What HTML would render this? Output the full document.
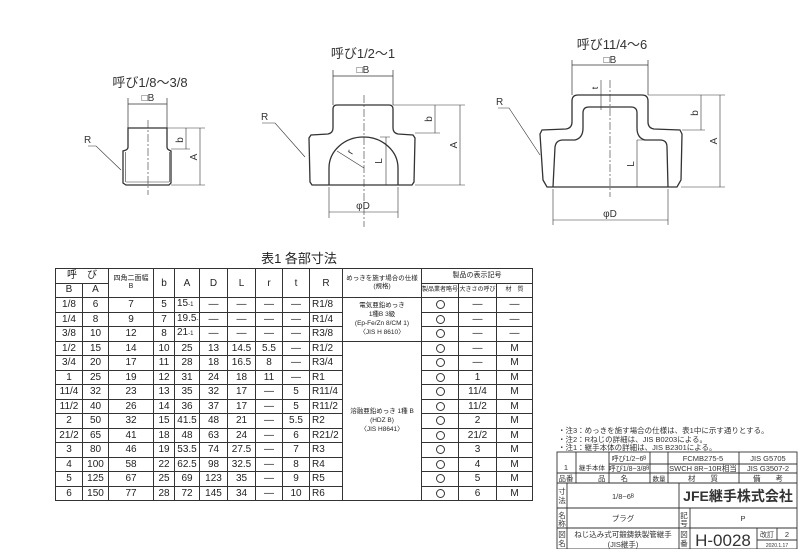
<!DOCTYPE html>
<html><head><meta charset="utf-8"><style>
body{margin:0;width:800px;height:549px;background:#fff;position:relative;overflow:hidden;font-family:"Liberation Sans","Noto Sans CJK JP",sans-serif;color:#222}
svg{position:absolute;left:0;top:0}
table{position:absolute;left:55px;top:268px;border-collapse:collapse;table-layout:fixed;width:478px;font-size:10px}
td{border:1px solid #333;text-align:center;padding:0;height:14.5px;line-height:11px;white-space:nowrap;overflow:hidden;box-sizing:border-box}
td.l{text-align:left;padding-left:2px}
.h{font-size:7px;line-height:8px}
.sm{font-size:6px}
.c{display:inline-block;width:7px;height:7px;border:1.6px solid #333;border-radius:50%;vertical-align:middle}
.sp{font-size:7px;line-height:10px}
</style></head><body>
<svg width="800" height="549" viewBox="0 0 800 549" fill="none" stroke="#333" stroke-width="1" font-family="Liberation Sans, Noto Sans CJK JP, sans-serif">
<g>
<text x="150" y="87" font-size="13" fill="#333" stroke="none" text-anchor="middle">呼び1/8〜3/8</text>
<text x="148" y="101" font-size="10" fill="#333" stroke="none" text-anchor="middle">□B</text>
<path d="M128,104 H167 M128,98 V128 M167,98 V128" stroke-width="0.7"/>
<path d="M128,128 L167,128 L167,147 Q167,149 169,150 L171,151 L171,183 L169,185 L126,185 L123,183 L123,151 L126,150 Q128,149 128,147 Z" stroke-width="1.3"/>
<path d="M125.5,152 V182 M169.5,152 V182 M126,182 H169" stroke-width="0.6"/>
<path d="M148,120 V195" stroke-dasharray="8,2,2,2" stroke-width="0.6"/>
<path d="M167,128 H205 M171,149 H190 M171,185 H205 M186,128 V149 M200,128 V185" stroke-width="0.6"/>
<text x="183" y="140" font-size="10" fill="#333" stroke="none" transform="rotate(-90 183 140)" text-anchor="middle">b</text>
<text x="197" y="157" font-size="10" fill="#333" stroke="none" transform="rotate(-90 197 157)" text-anchor="middle">A</text>
<text x="84" y="143" font-size="10" fill="#333" stroke="none">R</text>
<path d="M88,146 L96,146 L121,170" stroke-width="0.6"/>
</g>
<g>
<text x="363" y="58" font-size="13" fill="#333" stroke="none" text-anchor="middle">呼び1/2〜1</text>
<text x="363" y="73" font-size="10" fill="#333" stroke="none" text-anchor="middle">□B</text>
<path d="M333,76 H393 M333,70 V105 M393,70 V105" stroke-width="0.7"/>
<path d="M337,105 L389,105 Q393,105 393,109 L393,128 Q393,133 398,134 L413,135 L415,138 L414,182 L412,185 L312,185 L310,182 L309,138 L311,135 L328,134 Q333,133 333,128 L333,109 Q333,105 337,105 Z" stroke-width="1.3"/>
<path d="M329,185 L329,168 A34.5,31 0 0 1 398,168 L398,185" stroke-width="1.3"/>
<path d="M364,95 V227" stroke-dasharray="8,2,2,2" stroke-width="0.6"/>
<path d="M393,105 H465 M415,133 H440 M415,185 H465 M435,105 V133 M460,105 V185 M380,137 H390 M386,137 V185 M329,187 V218 M398,187 V218 M329,212 H398 M364,168 L337,151" stroke-width="0.6"/>
<text x="432" y="119" font-size="10" fill="#333" stroke="none" transform="rotate(-90 432 119)" text-anchor="middle">b</text>
<text x="457" y="145" font-size="10" fill="#333" stroke="none" transform="rotate(-90 457 145)" text-anchor="middle">A</text>
<text x="382" y="161" font-size="10" fill="#333" stroke="none" transform="rotate(-90 382 161)" text-anchor="middle">L</text>
<text x="352" y="155" font-size="10" fill="#333" stroke="none" transform="rotate(-60 352 155)">r</text>
<text x="363" y="209" font-size="10" fill="#333" stroke="none" text-anchor="middle">φD</text>
<text x="261" y="120" font-size="10" fill="#333" stroke="none">R</text>
<path d="M262,123 L275,123 L305,157" stroke-width="0.6"/>
</g>
<g>
<text x="612" y="49" font-size="13" fill="#333" stroke="none" text-anchor="middle">呼び11/4〜6</text>
<text x="610" y="63" font-size="10" fill="#333" stroke="none" text-anchor="middle">□B</text>
<path d="M572,65 H648 M572,60 V95 M648,60 V95" stroke-width="0.7"/>
<path d="M578,95 L642,95 Q648,95 648,101 L648,122 Q648,128 654,129 L680,130 L682,134 L681,180 L677,187 L547,187 L543,180 L540,134 L542,130 L566,129 Q572,128 572,122 L572,101 Q572,95 578,95Z" stroke-width="1.3"/>
<path d="M553,187 L555,147 Q556,140 563,140 L575,140 Q583,138 583,128 L583,113 Q583,107 589,107 L631,107 Q637,107 637,113 L637,128 Q637,138 645,140 L660,140 Q667,140 667,147 L668,187" stroke-width="1.3"/>
<path d="M610,80 V197" stroke-dasharray="8,2,2,2" stroke-width="0.6"/>
<path d="M648,95 H725 M682,130 H705 M681,187 H725 M701,95 V130 M720,95 V187 M637,140 H645 M637,140 V187 M553,189 V225 M668,189 V225 M553,220 H668 M601,80 V110" stroke-width="0.6"/>
<text x="598" y="88" font-size="9" fill="#333" stroke="none" transform="rotate(-90 598 88)" text-anchor="middle">t</text>
<text x="698" y="113" font-size="10" fill="#333" stroke="none" transform="rotate(-90 698 113)" text-anchor="middle">b</text>
<text x="717" y="141" font-size="10" fill="#333" stroke="none" transform="rotate(-90 717 141)" text-anchor="middle">A</text>
<text x="634" y="164" font-size="10" fill="#333" stroke="none" transform="rotate(-90 634 164)" text-anchor="middle">L</text>
<text x="610" y="217" font-size="10" fill="#333" stroke="none" text-anchor="middle">φD</text>
<text x="496" y="105" font-size="10" fill="#333" stroke="none">R</text>
<path d="M498,108 L509,108 L540,155" stroke-width="0.6"/>
</g>
<text x="299" y="263" font-size="13" fill="#222" stroke="none" text-anchor="middle">表1 各部寸法</text>
<g fill="#333" stroke="none" font-size="7.5">
<text x="558" y="433">・注3：めっきを施す場合の仕様は、表1中に示す通りとする。</text>
<text x="558" y="442">・注2：Rねじの詳細は、JIS B0203による。</text>
<text x="558" y="450">・注1：継手本体の詳細は、JIS B2301による。</text>
</g>
<g stroke-width="0.9">
<rect x="557" y="452" width="240" height="97"/>
<path d="M609,464 H797 M557,473 H797 M557,483 H797 M557,508 H797 M557,528 H797 M576,452 V483 M609,452 V483 M650,452 V483 M668,452 V483 M739,452 V483 M567,483 V549 M679,483 V549 M690,508 V549 M757,528 V549 M777,528 V540 M757,540 H797"/>
</g>
<g fill="#333" stroke="none" font-size="7.5" text-anchor="middle">
<text x="566" y="470">1</text>
<text x="592" y="470" font-size="6.5">継手本体</text>
<text x="629" y="461" font-size="7">呼び1/2~6ᴮ</text>
<text x="629" y="471" font-size="7">呼び1/8~3/8ᴮ</text>
<text x="703" y="461">FCMB275-5</text>
<text x="703" y="471">SWCH 8R~10R相当</text>
<text x="768" y="461">JIS G5705</text>
<text x="768" y="471">JIS G3507-2</text>
<text x="566" y="481">品番</text>
<text x="613" y="481">品　　名</text>
<text x="659" y="481" font-size="6.5">数量</text>
<text x="703" y="481">材　　質</text>
<text x="768" y="481">備　　考</text>
<text x="562" y="494">寸</text><text x="562" y="503">法</text>
<text x="623" y="499">1/8~6ᴮ</text>
<text x="738" y="501" font-size="14" font-weight="bold">JFE継手株式会社</text>
<text x="562" y="518">名</text><text x="562" y="526">称</text>
<text x="623" y="521">プラグ</text>
<text x="684" y="518">記</text><text x="684" y="526">号</text>
<text x="743" y="521">P</text>
<text x="562" y="537">図</text><text x="562" y="546">名</text>
<text x="623" y="537">ねじ込み式可鍛鋳鉄製管継手</text>
<text x="623" y="547">(JIS継手)</text>
<text x="684" y="537">図</text><text x="684" y="546">番</text>
<text x="723" y="546" font-size="17">H-0028</text>
<text x="767" y="537" font-size="7">改訂</text>
<text x="787" y="537">2</text>
<text x="777" y="547" font-size="5">2020.1.17</text>
</g>
</svg>
<table>
<colgroup><col style="width:27px"><col style="width:26px"><col style="width:45px"><col style="width:21px"><col style="width:25px"><col style="width:28px"><col style="width:28px"><col style="width:27px"><col style="width:27px"><col style="width:33px"><col style="width:79px"><col style="width:37px"><col style="width:38px"><col style="width:36px"></colgroup>
<tr><td colspan="2" style="height:14px;line-height:10px">呼　び</td><td rowspan="2" class="h">四角二面幅<br>B</td><td rowspan="2">b</td><td rowspan="2">A</td><td rowspan="2">D</td><td rowspan="2">L</td><td rowspan="2">r</td><td rowspan="2">t</td><td rowspan="2">R</td><td rowspan="2" class="sp" style="font-size:6.5px;line-height:8px">めっきを施す場合の仕様<br>(規格)</td><td colspan="3" class="sp" style="line-height:8px">製品の表示記号</td></tr>
<tr><td style="height:11px;line-height:8px">B</td><td style="height:11px;line-height:8px">A</td><td class="sm" style="line-height:8px">製品業者略号</td><td class="sm" style="line-height:8px">大きさの呼び</td><td class="sm" style="line-height:8px">材　質</td></tr>
<tr><td>1/8</td><td>6</td><td>7</td><td>5</td><td class="l">15<span class="sm">-1</span></td><td>—</td><td>—</td><td>—</td><td>—</td><td class="l">R1/8</td><td rowspan="3" class="sp" style="font-size:6.5px;line-height:9px">電気亜鉛めっき<br>1種B 3級<br>(Ep-Fe/Zn 8/CM 1)<br>〈JIS H 8610〉</td><td><span class="c"></span></td><td>—</td><td>—</td></tr>
<tr><td>1/4</td><td>8</td><td>9</td><td>7</td><td class="l">19.5<span class="sm">-1</span></td><td>—</td><td>—</td><td>—</td><td>—</td><td class="l">R1/4</td><td><span class="c"></span></td><td>—</td><td>—</td></tr>
<tr><td>3/8</td><td>10</td><td>12</td><td>8</td><td class="l">21<span class="sm">-1</span></td><td>—</td><td>—</td><td>—</td><td>—</td><td class="l">R3/8</td><td><span class="c"></span></td><td>—</td><td>—</td></tr>
<tr><td>1/2</td><td>15</td><td>14</td><td>10</td><td>25</td><td>13</td><td>14.5</td><td>5.5</td><td>—</td><td class="l">R1/2</td><td rowspan="11" class="sp" style="font-size:6.5px;line-height:9px;vertical-align:middle">溶融亜鉛めっき 1種 B<br>(HDZ B)<br>〈JIS H8641〉</td><td><span class="c"></span></td><td>—</td><td>M</td></tr>
<tr><td>3/4</td><td>20</td><td>17</td><td>11</td><td>28</td><td>18</td><td>16.5</td><td>8</td><td>—</td><td class="l">R3/4</td><td><span class="c"></span></td><td>—</td><td>M</td></tr>
<tr><td>1</td><td>25</td><td>19</td><td>12</td><td>31</td><td>24</td><td>18</td><td>11</td><td>—</td><td class="l">R1</td><td><span class="c"></span></td><td>1</td><td>M</td></tr>
<tr><td>11/4</td><td>32</td><td>23</td><td>13</td><td>35</td><td>32</td><td>17</td><td>—</td><td>5</td><td class="l">R11/4</td><td><span class="c"></span></td><td>11/4</td><td>M</td></tr>
<tr><td>11/2</td><td>40</td><td>26</td><td>14</td><td>36</td><td>37</td><td>17</td><td>—</td><td>5</td><td class="l">R11/2</td><td><span class="c"></span></td><td>11/2</td><td>M</td></tr>
<tr><td>2</td><td>50</td><td>32</td><td>15</td><td>41.5</td><td>48</td><td>21</td><td>—</td><td>5.5</td><td class="l">R2</td><td><span class="c"></span></td><td>2</td><td>M</td></tr>
<tr><td>21/2</td><td>65</td><td>41</td><td>18</td><td>48</td><td>63</td><td>24</td><td>—</td><td>6</td><td class="l">R21/2</td><td><span class="c"></span></td><td>21/2</td><td>M</td></tr>
<tr><td>3</td><td>80</td><td>46</td><td>19</td><td>53.5</td><td>74</td><td>27.5</td><td>—</td><td>7</td><td class="l">R3</td><td><span class="c"></span></td><td>3</td><td>M</td></tr>
<tr><td>4</td><td>100</td><td>58</td><td>22</td><td>62.5</td><td>98</td><td>32.5</td><td>—</td><td>8</td><td class="l">R4</td><td><span class="c"></span></td><td>4</td><td>M</td></tr>
<tr><td>5</td><td>125</td><td>67</td><td>25</td><td>69</td><td>123</td><td>35</td><td>—</td><td>9</td><td class="l">R5</td><td><span class="c"></span></td><td>5</td><td>M</td></tr>
<tr><td>6</td><td>150</td><td>77</td><td>28</td><td>72</td><td>145</td><td>34</td><td>—</td><td>10</td><td class="l">R6</td><td><span class="c"></span></td><td>6</td><td>M</td></tr>
</table>
</body></html>
